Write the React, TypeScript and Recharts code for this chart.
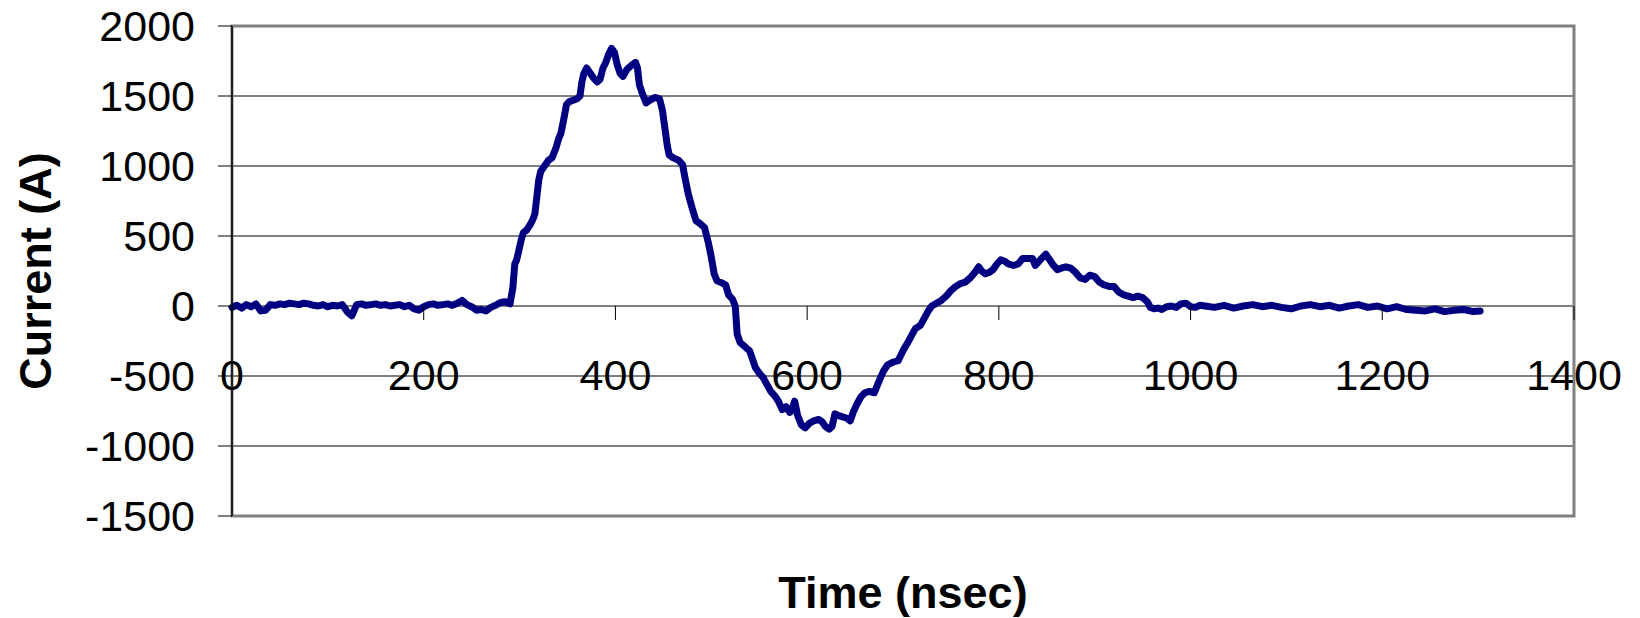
import { LineChart, Line, XAxis, YAxis, CartesianGrid, ReferenceArea } from 'recharts';

// time axis in ns, current in A
const timeNs = [
  0, 5, 10, 15, 20, 25, 30, 35, 40, 45, 50, 55, 60, 65, 70, 75, 80, 85, 90, 95,
  100, 105, 110, 115, 120, 125, 130, 135, 140, 145, 150, 155, 160, 165, 170, 175, 180, 185, 190, 195,
  200, 205, 210, 215, 220, 225, 230, 235, 240, 245, 250, 255, 260, 265, 270, 275, 280, 285, 290,
  293, 295, 297, 300, 302, 304, 307, 311, 314, 316, 318, 320, 322, 326, 330, 334, 338, 341, 343, 346,
  349, 352, 356, 360, 363, 365, 367, 370, 373, 377, 381, 384, 387, 390, 393, 396, 399, 402, 405, 408,
  412, 417, 421, 423, 425, 428, 432, 436, 441, 446, 449, 451, 454, 456, 460, 466, 470, 473, 476, 480,
  484, 488, 493, 497, 500, 503, 506, 511, 515, 518, 522, 525, 527, 530, 535, 540, 543, 546, 550, 554,
  558, 562, 566, 570, 574, 578, 582, 585, 587, 590, 594, 598, 602, 607, 612, 616, 619, 623, 626, 629,
  632, 636, 641, 645, 648, 652, 656, 660, 665, 670, 676, 680, 684, 690, 695, 700, 705, 709, 713, 718,
  722, 726, 730, 735, 740, 745, 750, 755, 760, 765, 770, 775, 779, 782, 786, 790, 794, 798, 802, 806,
  810, 815, 820, 825, 830, 835, 838, 842, 846, 849, 853, 857, 861, 865, 870, 875, 880, 885, 890, 895,
  900, 905, 910, 915, 920, 925, 930, 935, 940, 945, 950, 955, 958, 962, 966, 970, 975, 980, 985, 990,
  995, 1000, 1005, 1010, 1015, 1025, 1035, 1045, 1055, 1065, 1075, 1085, 1095, 1105, 1115, 1125, 1135, 1145, 1155, 1165,
  1175, 1185, 1195, 1205, 1215, 1225, 1235, 1245, 1255, 1265, 1275, 1285, 1295, 1302,
];

const currentA = [
  -10, 5, -15, 10, -5, 15, -35, -30, 10, 5, 15, 10, 20, 15, 10, 20, 15, 5, 0, 10,
  -5, 5, 0, 10, -40, -70, 10, 15, 5, 10, 15, 5, 10, 0, 5, 10, -5, 5, -20, -30,
  -5, 10, 15, 5, 10, 15, 5, 20, 40, 10, -5, -30, -25, -35, -10, 5, 25, 30, 15,
  130, 300, 330, 420, 480, 525, 540, 580, 620, 660, 780, 900, 960, 1000, 1040, 1060, 1130, 1200, 1230, 1330,
  1440, 1460, 1470, 1480, 1500, 1600, 1660, 1700, 1670, 1630, 1600, 1620, 1700, 1740, 1800, 1840, 1810, 1720, 1660, 1640,
  1690, 1720, 1740, 1700, 1580, 1520, 1450, 1470, 1490, 1480, 1400, 1300, 1150, 1080, 1060, 1040, 1010, 900, 800, 700,
  610, 590, 560, 450, 350, 230, 180, 165, 150, 80, 50, 0, -200, -260, -290, -320, -380, -440, -480, -510,
  -560, -610, -640, -680, -740, -720, -760, -720, -680, -780, -850, -870, -840, -820, -810, -830, -860, -880, -860, -770,
  -780, -790, -800, -820, -760, -700, -650, -620, -610, -620, -520, -460, -420, -400, -390, -320, -260, -210, -160, -140,
  -90, -40, 0, 20, 40, 70, 110, 140, 160, 170, 200, 240, 280, 250, 230, 240, 260, 300, 330, 320,
  300, 290, 300, 340, 340, 340, 290, 320, 350, 370, 330, 290, 260, 270, 280, 270, 240, 200, 190, 220,
  210, 170, 150, 140, 140, 100, 80, 70, 60, 70, 60, 30, -10, -20, -15, -25, -5, 0, -10, 15,
  20, -5, -10, 5, 0, -10, 5, -15, 0, 10, -5, 5, -10, -20, 0, 10, -5, 5, -15, 0,
  10, -10, 0, -20, -5, -25, -30, -35, -20, -40, -30, -25, -40, -35,
];

const xTicks = [0, 200, 400, 600, 800, 1000, 1200, 1400];
const yTicks = [-1500, -1000, -500, 0, 500, 1000, 1500, 2000];

const data = timeNs.map((t, i) => ({ t, current: currentA[i] }));

const W = 1640;
const H = 618;
const PLOT_TOP = 26;
const PLOT_LEFT = 232;
const PLOT_H = 490;
const Y_MIN = -1500;
const Y_MAX = 2000;
const FONT = '"Liberation Sans", Arial, sans-serif';
// x axis crosses at current = 0
const zeroY = PLOT_TOP + ((Y_MAX - 0) / (Y_MAX - Y_MIN)) * PLOT_H;

const XTick = (props: any) => {
  const { x, payload } = props;
  return (
    <g>
      <line x1={x} x2={x} y1={zeroY} y2={zeroY + 14} stroke="#000" strokeWidth={1} />
      <text x={x} y={zeroY + 84} textAnchor="middle" fontSize={43} fontFamily={FONT} fill="#000">
        {payload.value}
      </text>
    </g>
  );
};

const YTitle = (props: any) => {
  const vb = props.viewBox || { x: 0, y: PLOT_TOP, width: PLOT_LEFT, height: PLOT_H };
  const cx = 35;
  const cy = vb.y + vb.height / 2;
  return (
    <text
      x={cx}
      y={cy}
      transform={`rotate(-90 ${cx} ${cy})`}
      textAnchor="middle"
      dominantBaseline="central"
      fontSize={45}
      fontWeight="bold"
      fontFamily={FONT}
      fill="#000"
    >
      Current (A)
    </text>
  );
};

const XTitle = (props: any) => {
  const vb = props.viewBox || { x: PLOT_LEFT, y: 516, width: 1342, height: 102 };
  return (
    <text
      x={vb.x + vb.width / 2}
      y={608}
      textAnchor="middle"
      fontSize={45}
      fontWeight="bold"
      fontFamily={FONT}
      fill="#000"
    >
      Time (nsec)
    </text>
  );
};

export default function App() {
  return (
    <div style={{ position: 'absolute', left: 0, top: 0, width: W, height: H, background: '#fff' }}>
      <LineChart width={W} height={H} data={data} margin={{ top: PLOT_TOP, right: 66, left: 0, bottom: 0 }}>
        <CartesianGrid horizontal vertical={false} stroke="#000" strokeWidth={1} />
        <ReferenceArea x1={0} x2={1400} y1={Y_MIN} y2={Y_MAX} fill="none" stroke="#808080" strokeWidth={3} fillOpacity={0} />
        <XAxis
          dataKey="t"
          type="number"
          domain={[0, 1400]}
          ticks={xTicks}
          interval={0}
          axisLine={false}
          tickLine={false}
          tickSize={0}
          tickMargin={0}
          height={102}
          tick={<XTick />}
          label={<XTitle />}
        />
        <YAxis
          type="number"
          domain={[Y_MIN, Y_MAX]}
          ticks={yTicks}
          interval={0}
          width={PLOT_LEFT}
          tickSize={14}
          tickMargin={23}
          axisLine={{ stroke: '#000', strokeWidth: 1.5 }}
          tickLine={{ stroke: '#000' }}
          tick={{ fontSize: 43, fill: '#000', fontFamily: FONT }}
          label={<YTitle />}
        />
        <Line
          type="linear"
          dataKey="current"
          stroke="#000080"
          strokeWidth={7}
          strokeLinejoin="round"
          strokeLinecap="round"
          dot={false}
          isAnimationActive={false}
        />
      </LineChart>
    </div>
  );
}
